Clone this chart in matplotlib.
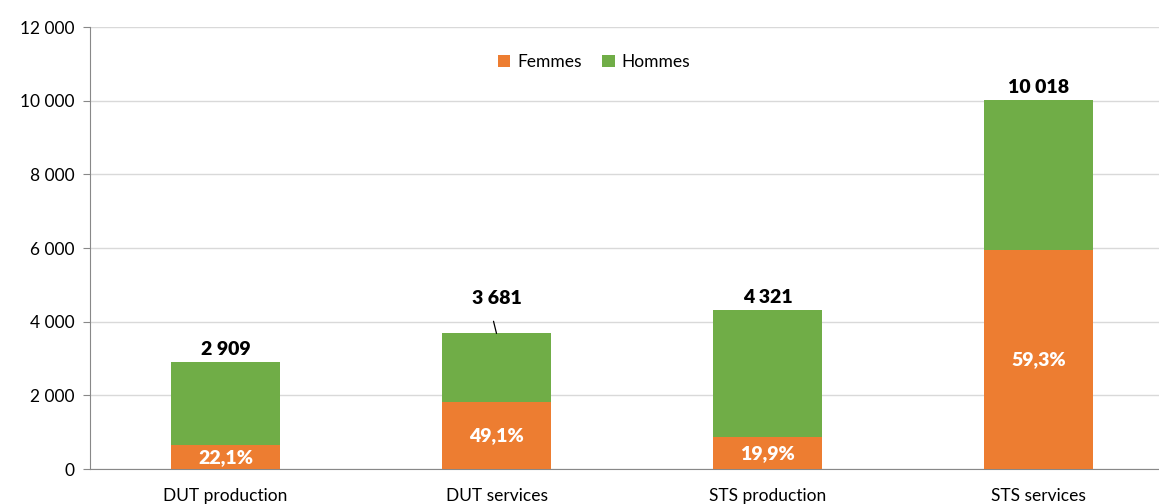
from matplotlib import pyplot as plt
from matplotlib.ticker import FuncFormatter

# Effectifs par filière, femmes / hommes
categories = ["DUT production", "DUT services", "STS production", "STS services"]
totaux = [2909, 3681, 4321, 10018]
part_femmes = [22.1, 49.1, 19.9, 59.3]
femmes = [643, 1807, 860, 5941]
hommes = [t - f for t, f in zip(totaux, femmes)]

orange = "#ED7D31"
vert = "#70AD47"

plt.rcParams['font.family'] = ['Lato', 'DejaVu Sans']
fig = plt.figure(figsize=(11.59, 5.04), dpi=100)
ax = fig.add_axes([90 / 1159, 35 / 504, 1084 / 1159, 442 / 504])

x = range(len(categories))
ax.bar(x, femmes, width=0.4, color=orange, label="Femmes", zorder=3)
ax.bar(x, hommes, width=0.4, bottom=femmes, color=vert, label="Hommes", zorder=3)

ax.set_xlim(-0.5, 3.5)
ax.set_ylim(0, 12000)
ax.set_yticks(range(0, 12001, 2000))
ax.yaxis.set_major_formatter(FuncFormatter(lambda v, p: f"{int(v):,}".replace(",", " ")))
ax.set_xticks(list(x))
ax.set_xticklabels(categories)
ax.tick_params(axis='y', labelsize=12.5, length=5, color="#888888", pad=6)
ax.tick_params(axis='x', labelsize=12.5, length=0, pad=14)
ax.grid(axis='y', color="#D9D9D9", linewidth=1, zorder=0)
for s in ["top", "right"]:
    ax.spines[s].set_visible(False)
ax.spines["left"].set_color("#888888")
ax.spines["bottom"].set_color("#888888")

# pourcentages femmes
for i, (f, p) in enumerate(zip(femmes, part_femmes)):
    ax.text(i, f / 2, f"{p:.1f}%".replace(".", ","), ha='center', va='center',
            color="white", fontsize=14, fontweight='heavy', zorder=4)

# totaux
decalages = [3, 19, 3, 3]
for i, (t, d) in enumerate(zip(totaux, decalages)):
    lab = f"{t:,}".replace(",", " ")
    ax.annotate(lab, (i, t), xytext=(0, d), textcoords='offset points',
                ha='center', va='bottom', fontsize=14, fontweight='heavy', zorder=4)
# trait de rappel pour DUT services
ax.annotate("", (1, totaux[1]), xytext=(1 - 0.011, totaux[1] + 330),
            arrowprops=dict(arrowstyle='-', color='black', lw=0.9,
                            shrinkA=0, shrinkB=0))

ax.legend(loc='upper center', bbox_to_anchor=(0.465, 0.975), ncol=2, frameon=False,
          fontsize=12.5, handlelength=0.7, handleheight=0.7, columnspacing=1.2,
          handletextpad=0.4)

plt.savefig('out.png')
